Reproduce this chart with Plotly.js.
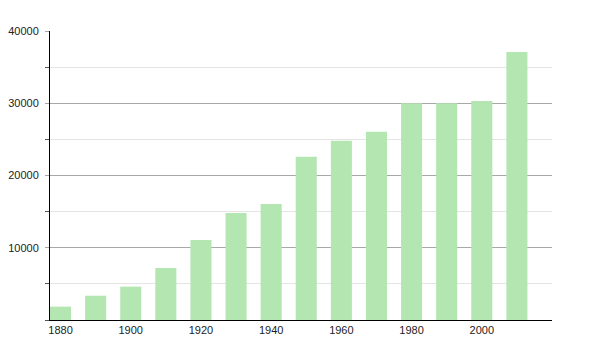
<!DOCTYPE html>
<html>
<head>
<meta charset="utf-8">
<script src="https://cdn.plot.ly/plotly-3.0.1.min.js"></script>
<style>html,body{margin:0;padding:0;background:#fff;}#chart{width:600px;height:350px;}</style>
</head>
<body>
<div id="chart"></div>
<script>
const years = [1880, 1890, 1900, 1910, 1920, 1930, 1940, 1950, 1960, 1970, 1980, 1990, 2000, 2010];
const population = [1850, 3360, 4610, 7200, 11070, 14800, 16050, 22600, 24800, 26050, 29990, 30000, 30300, 37090];
const xTickVals = [1880, 1900, 1920, 1940, 1960, 1980, 2000];
const yTickVals = [10000, 20000, 30000, 40000];

const trace = {
  type: 'bar',
  x: years,
  y: population,
  width: 6,
  marker: {color: '#b3e6b1', line: {width: 0}},
  hoverinfo: 'x+y'
};

const layout = {
  width: 600, height: 350,
  margin: {l: 50, r: 48, t: 31, b: 30},
  paper_bgcolor: '#ffffff',
  plot_bgcolor: '#ffffff',
  showlegend: false,
  font: {family: 'Liberation Sans, Arial, sans-serif', size: 11, color: '#222'},
  xaxis: {
    range: [1877, 2020],
    tickvals: xTickVals,
    ticktext: xTickVals.map(String),
    showgrid: false,
    zeroline: false,
    showline: true,
    linecolor: '#000',
    linewidth: 1,
    ticks: '',
    fixedrange: true
  },
  yaxis: {
    range: [0, 40000],
    tickvals: yTickVals,
    ticktext: yTickVals.map(String),
    showgrid: true,
    gridcolor: '#a8a8a8',
    gridwidth: 1,
    zeroline: false,
    showline: true,
    linecolor: '#000',
    linewidth: 1,
    ticks: 'outside',
    ticklen: 4,
    tickcolor: '#a8a8a8',
    ticklabelstandoff: 4,
    minor: {dtick: 5000, tick0: 0, showgrid: true, gridcolor: '#e4e4e4', ticks: 'outside', ticklen: 4, tickcolor: '#555'},
    fixedrange: true
  }
};

Plotly.newPlot('chart', [trace], layout, {displayModeBar: false, staticPlot: true});
</script>
</body>
</html>
